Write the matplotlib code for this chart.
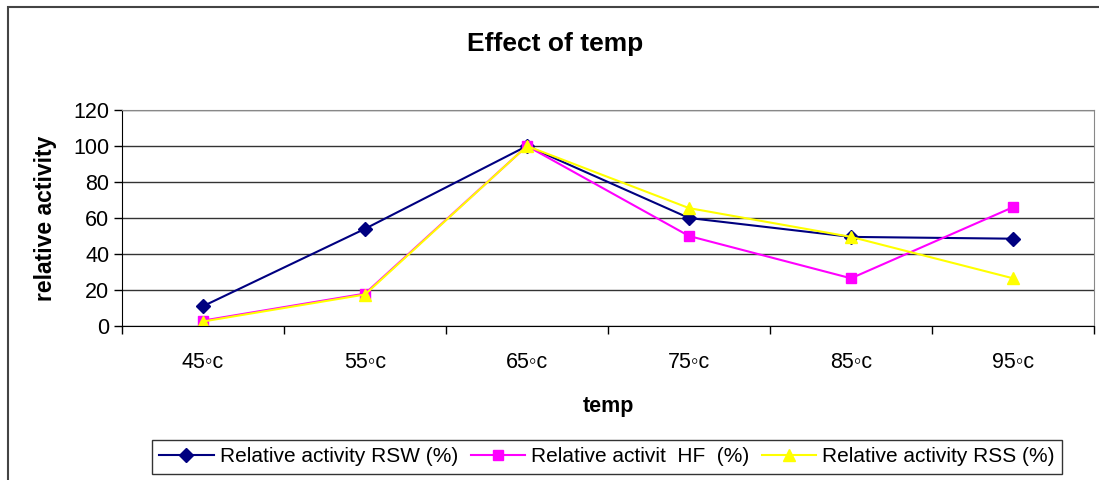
import matplotlib
matplotlib.use("Agg")
import matplotlib.pyplot as plt
from matplotlib.patches import Rectangle

plt.rcParams["font.family"] = ["Liberation Sans", "DejaVu Sans"]

temps = ["45\u25e6c", "55\u25e6c", "65\u25e6c", "75\u25e6c", "85\u25e6c", "95\u25e6c"]
rsw = [11, 54, 100, 60, 49.5, 48.5]
hf = [3, 18, 100, 50, 26.5, 66]
rss = [2.5, 17.5, 100, 65.5, 49.5, 26.5]

labels = ["Relative activity RSW (%)", "Relative activit  HF  (%)", "Relative activity RSS (%)"]

fig = plt.figure(figsize=(10.99, 4.8), dpi=100)
ax = fig.add_axes([122 / 1099, 154 / 480, 972 / 1099, 216 / 480])

x = list(range(len(temps)))
ax.plot(x, rsw, color="#000080", lw=1.5, marker="D", ms=7, mfc="#000080", mec="#000080", label=labels[0])
ax.plot(x, hf, color="#FF00FF", lw=1.5, marker="s", ms=7, mfc="#FF00FF", mec="#FF00FF", label=labels[1])
ax.plot(x, rss, color="#FFFF00", lw=1.5, marker="^", ms=9, mfc="#FFFF00", mec="#FFFF00", label=labels[2])

ax.set_xlim(-0.5, len(temps) - 0.5)
ax.set_ylim(0, 120)
ax.set_yticks(range(0, 121, 20))
ax.set_xticks(x)
ax.set_xticklabels(temps)
ax.set_xticks([i - 0.5 for i in range(len(temps) + 1)], minor=True)
ax.tick_params(axis="x", which="major", length=0, pad=19, labelsize=15.5)
ax.tick_params(axis="x", which="minor", length=6, width=1, direction="out")
ax.tick_params(axis="y", length=6, width=1, direction="out", pad=3, labelsize=15.5)

ax.yaxis.grid(True, color="#333333", lw=1)
ax.set_axisbelow(True)
for s in ["top", "right"]:
    ax.spines[s].set_color("#888888")
for s in ["left", "bottom"]:
    ax.spines[s].set_color("black")

ax.set_xlabel("temp", fontsize=15.5, fontweight="bold", labelpad=16)
ax.set_ylabel("relative activity", fontsize=16.5, fontweight="bold", labelpad=12)

fig.text(0.505, 0.908, "Effect of temp", ha="center", va="center", fontsize=19, fontweight="bold")

# outer chart frame (cut off at right and bottom)
fig.patches.append(Rectangle((8 / 1099, -0.1), 1.2, 1.1 - 7 / 480, transform=fig.transFigure,
                             fill=False, edgecolor="#444444", lw=1.5))

leg = fig.legend(loc="center", bbox_to_anchor=(607 / 1099, 23 / 480), ncol=3, fontsize=15,
                 frameon=True, fancybox=False, edgecolor="black", handlelength=2.6,
                 columnspacing=0.6, handletextpad=0.3, borderpad=0.35)
leg.get_frame().set_linewidth(1)

fig.savefig("out.png", dpi=100)
